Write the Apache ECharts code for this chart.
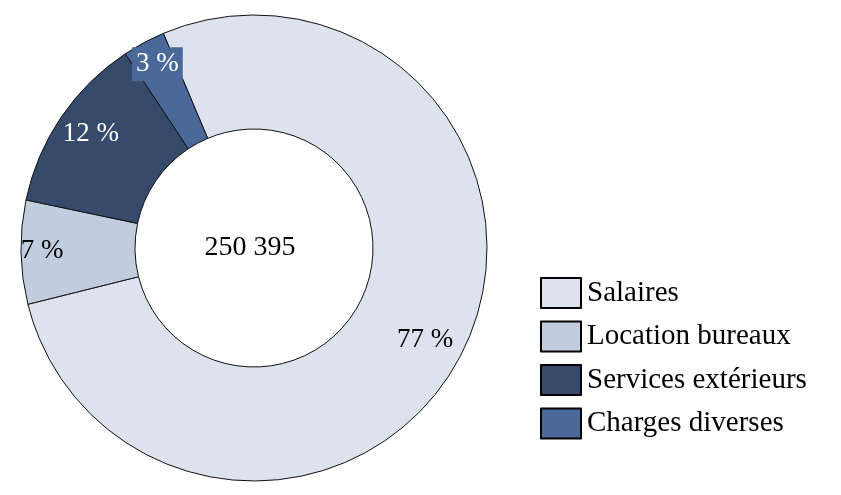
<!DOCTYPE html>
<html>
<head>
<meta charset="utf-8">
<script src="https://cdn.jsdelivr.net/npm/echarts@6/dist/echarts.min.js"></script>
<style>
  html, body { margin: 0; padding: 0; background: #fff; }
  #chart { width: 841px; height: 495px; }
</style>
</head>
<body>
<div id="chart"></div>
<script>
const categories = ['Salaires', 'Location bureaux', 'Services extérieurs', 'Charges diverses'];
const values = [194000, 18000, 31000, 7395];
const colors = ['#DCE3EE', '#C2CCDF', '#364B6B', '#4A6898'];
const labelColors = ['#000', '#000', '#fff', '#fff'];
const labelOffsets = [[11, 12], [-33, 0], [-15, -14], [-12, -26]];

const total = values.reduce((a, b) => a + b, 0);
const font = 'Liberation Serif';

const chart = echarts.init(document.getElementById('chart'));

const option = {
  animation: false,
  legend: {
    orient: 'vertical',
    left: 535,
    top: 272,
    icon: 'rect',
    itemWidth: 40,
    itemHeight: 30,
    itemGap: 11.5,
    data: categories,
    textStyle: { fontFamily: font, fontSize: 29, color: '#000', padding: [0, 0, 0, 1] },
    itemStyle: { borderColor: '#000', borderWidth: 2 }
  },
  graphic: [{
    type: 'text',
    style: {
      text: '250 395',
      x: 250,
      y: 248,
      textAlign: 'center',
      textVerticalAlign: 'middle',
      font: '28px "Liberation Serif"',
      fill: '#000'
    }
  }],
  series: [{
    type: 'pie',
    center: [254, 248],
    radius: [119, 233],
    startAngle: 112.9,
    clockwise: true,
    avoidLabelOverlap: false,
    itemStyle: { borderColor: '#111', borderWidth: 1 },
    label: {
      show: true,
      position: 'inside',
      fontFamily: font,
      fontSize: 27,
      formatter: p => Math.round(p.value / total * 100) + ' %'
    },
    labelLine: { show: false },
    emphasis: { disabled: true },
    data: categories.map((name, i) => ({
      name: name,
      value: values[i],
      itemStyle: { color: colors[i] },
      label: Object.assign(
        { color: labelColors[i], offset: labelOffsets[i] },
        i === 3 ? { backgroundColor: colors[i], padding: [5, 4, 2, 4] } : {}
      )
    }))
  }]
};

chart.setOption(option);
</script>
</body>
</html>
